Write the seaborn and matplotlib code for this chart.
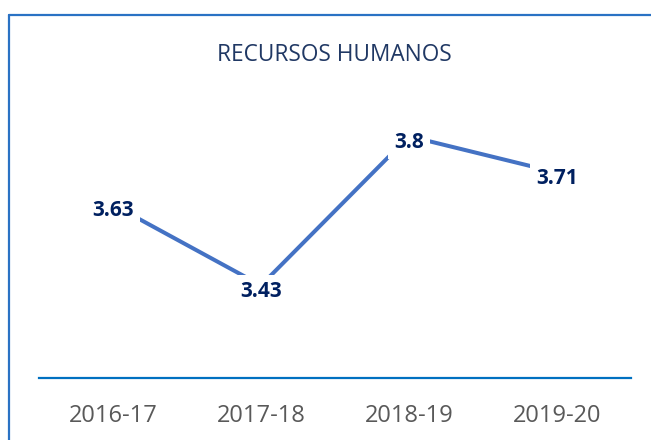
import matplotlib
matplotlib.use("Agg")
import matplotlib.pyplot as plt
from matplotlib.lines import Line2D
import pandas as pd
import seaborn as sns

# Datos
periodos = ['2016-17', '2017-18', '2018-19', '2019-20']
valores = [3.63, 3.43, 3.8, 3.71]
etiquetas = ['3.63', '3.43', '3.8', '3.71']

df = pd.DataFrame({'periodo': periodos, 'valor': valores})

sns.set_style("white")
plt.rcParams['font.family'] = ['Open Sans', 'DejaVu Sans']

fig = plt.figure(figsize=(6.51, 4.4), dpi=100)
ax = fig.add_axes([39 / 651, 1 - 378 / 440, 592 / 651, 282 / 440])

sns.lineplot(data=df, x='periodo', y='valor', sort=False, color='#4472C4',
             linewidth=2.9, ax=ax)

ax.set_xlim(-0.5, 3.5)
ax.set_ylim(3.2, 3.9)

# Etiquetas de datos
for i, (v, t) in enumerate(zip(valores, etiquetas)):
    ax.annotate(t, (i, v), xytext=(0, -2.5), textcoords='offset points',
                ha='center', va='center_baseline', fontsize=15,
                fontweight='bold', color='#002060', zorder=5,
                bbox=dict(boxstyle='square,pad=0.3', fc='white', ec='none'))

ax.set_xlabel('')
ax.set_ylabel('')
ax.set_yticks([])
ax.tick_params(axis='x', length=0, pad=18.5, labelsize=17, labelcolor='#595959')
for s in ['top', 'right', 'left']:
    ax.spines[s].set_visible(False)
ax.spines['bottom'].set_color('#0070C0')
ax.spines['bottom'].set_linewidth(1.6)

fig.text(334 / 651, 1 - 55 / 440, 'RECURSOS HUMANOS', ha='center', va='center',
         fontsize=16.3, color='#203864')

# Marco
fig.add_artist(Line2D([9 / 651, 1], [1 - 15 / 440, 1 - 15 / 440],
                      transform=fig.transFigure, color='#2A72C4', linewidth=1.6))
fig.add_artist(Line2D([9 / 651, 9 / 651], [0, 1 - 15 / 440],
                      transform=fig.transFigure, color='#2A72C4', linewidth=1.6))

fig.savefig('out.png', dpi=100)
